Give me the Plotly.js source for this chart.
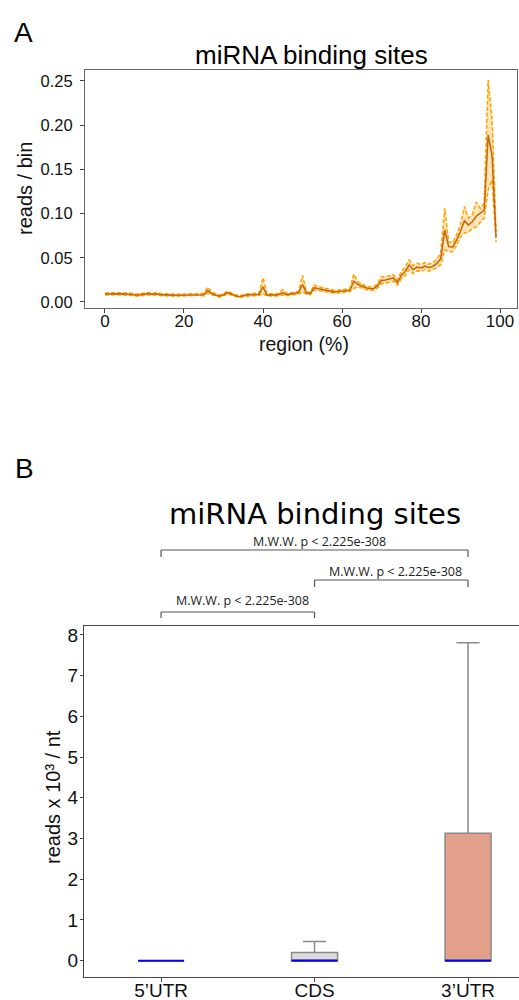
<!DOCTYPE html>
<html>
<head>
<meta charset="utf-8">
<script src="https://cdn.plot.ly/plotly-3.0.1.min.js"></script>
<style>
  html, body { margin: 0; padding: 0; background: #fff; }
  #chart { width: 519px; height: 1000px; }
</style>
</head>
<body>
<div id="chart"></div>
<script>
// ---- Panel A: metagene profile of miRNA binding site reads ----
const regionPct = Array.from({length: 100}, (_, i) => i);

const readsMean = [
  0.0090, 0.0092, 0.0098, 0.0093, 0.0092, 0.0091, 0.0088, 0.0085, 0.0077, 0.0083,
  0.0090, 0.0094, 0.0086, 0.0093, 0.0083, 0.0079, 0.0078, 0.0078, 0.0076, 0.0078,
  0.0077, 0.0078, 0.0077, 0.0080, 0.0088, 0.0082, 0.0128, 0.0096, 0.0080, 0.0066,
  0.0082, 0.0105, 0.0090, 0.0070, 0.0060, 0.0072, 0.0080, 0.0082, 0.0083, 0.0086,
  0.0172, 0.0078, 0.0082, 0.0078, 0.0084, 0.0103, 0.0084, 0.0090, 0.0094, 0.0105,
  0.0198, 0.0100, 0.0096, 0.0162, 0.0150, 0.0140, 0.0132, 0.0122, 0.0115, 0.0118,
  0.0122, 0.0125, 0.0133, 0.0235, 0.0200, 0.0180, 0.0160, 0.0152, 0.0150, 0.0185,
  0.0245, 0.0248, 0.0258, 0.0272, 0.0220, 0.0300, 0.0345, 0.0418, 0.0365, 0.0395,
  0.0385, 0.0405, 0.0388, 0.0405, 0.0435, 0.0490, 0.0815, 0.0626, 0.0620, 0.0700,
  0.0800, 0.0920, 0.0870, 0.0910, 0.0970, 0.1000, 0.1040, 0.1890, 0.1650, 0.0730
];

const readsUpper = [
  0.0102, 0.0104, 0.0110, 0.0105, 0.0104, 0.0103, 0.0100, 0.0097, 0.0089, 0.0095,
  0.0102, 0.0107, 0.0098, 0.0106, 0.0095, 0.0091, 0.0090, 0.0090, 0.0088, 0.0090,
  0.0089, 0.0090, 0.0089, 0.0093, 0.0101, 0.0096, 0.0168, 0.0110, 0.0093, 0.0078,
  0.0095, 0.0122, 0.0103, 0.0082, 0.0072, 0.0084, 0.0092, 0.0094, 0.0095, 0.0099,
  0.0275, 0.0091, 0.0095, 0.0091, 0.0097, 0.0140, 0.0097, 0.0103, 0.0108, 0.0120,
  0.0300, 0.0114, 0.0110, 0.0195, 0.0172, 0.0160, 0.0150, 0.0140, 0.0132, 0.0134,
  0.0138, 0.0141, 0.0150, 0.0315, 0.0230, 0.0205, 0.0180, 0.0170, 0.0168, 0.0210,
  0.0285, 0.0285, 0.0295, 0.0310, 0.0250, 0.0340, 0.0395, 0.0475, 0.0410, 0.0440,
  0.0425, 0.0445, 0.0428, 0.0445, 0.0480, 0.0560, 0.1060, 0.0680, 0.0670, 0.0760,
  0.0870, 0.1080, 0.0950, 0.0990, 0.1130, 0.1060, 0.1120, 0.2510, 0.2060, 0.0800
];

const readsLower = [
  0.0079, 0.0081, 0.0087, 0.0082, 0.0081, 0.0080, 0.0077, 0.0074, 0.0066, 0.0072,
  0.0079, 0.0082, 0.0075, 0.0081, 0.0072, 0.0068, 0.0067, 0.0067, 0.0065, 0.0067,
  0.0066, 0.0067, 0.0066, 0.0068, 0.0076, 0.0070, 0.0098, 0.0083, 0.0068, 0.0055,
  0.0070, 0.0090, 0.0078, 0.0059, 0.0049, 0.0061, 0.0069, 0.0071, 0.0072, 0.0074,
  0.0098, 0.0066, 0.0070, 0.0066, 0.0072, 0.0080, 0.0072, 0.0078, 0.0081, 0.0090,
  0.0117, 0.0087, 0.0083, 0.0135, 0.0130, 0.0122, 0.0115, 0.0106, 0.0100, 0.0103,
  0.0107, 0.0110, 0.0117, 0.0155, 0.0172, 0.0157, 0.0141, 0.0135, 0.0133, 0.0160,
  0.0208, 0.0212, 0.0222, 0.0236, 0.0192, 0.0262, 0.0300, 0.0365, 0.0322, 0.0352,
  0.0345, 0.0366, 0.0350, 0.0366, 0.0392, 0.0420, 0.0590, 0.0570, 0.0570, 0.0640,
  0.0735, 0.0780, 0.0790, 0.0830, 0.0850, 0.0900, 0.0950, 0.1270, 0.1380, 0.0680
];

// ---- Panel B: read density per transcript region ----
const regions     = ["5\u2019UTR", "CDS", "3\u2019UTR"];
const boxQ1       = [0, 0, 0];
const boxMedian   = [0, 0, 0];
const boxQ3       = [0, 0.20, 3.13];
const boxLower    = [0, 0, 0];
const boxUpper    = [0, 0.47, 7.81];
const boxFill     = ["#cfe3f5", "#dcdcdc", "#e2a08a"];

// pairwise tests shown as brackets above the boxes
const testPairs  = [[0, 2], [1, 2], [0, 1]];
const testLabels = ["M.W.W. p < 2.225e-308", "M.W.W. p < 2.225e-308", "M.W.W. p < 2.225e-308"];

const W = 519, H = 1000;
const py = px => 1 - px / H;   // pixel row -> paper y
const px2 = px => px / W;      // pixel column -> paper x

const BOX_W = 0.3;
const arial = "Liberation Sans, Arial, sans-serif";

const traces = [
  {x: regionPct, y: readsLower, type: "scatter", mode: "lines", xaxis: "x", yaxis: "y",
   line: {color: "#ffa500", width: 1.6, dash: "4px,2px"}, hoverinfo: "skip"},
  {x: regionPct, y: readsUpper, type: "scatter", mode: "lines", xaxis: "x", yaxis: "y",
   fill: "tonexty", fillcolor: "rgba(255,170,40,0.32)",
   line: {color: "#ffa500", width: 1.6, dash: "4px,2px"}, hoverinfo: "skip"},
  {x: regionPct, y: readsMean, type: "scatter", mode: "lines", xaxis: "x", yaxis: "y",
   line: {color: "#c8680c", width: 1.6}}
];

regions.forEach((r, i) => {
  traces.push({
    type: "box", xaxis: "x2", yaxis: "y2",
    x: [i], q1: [boxQ1[i]], median: [boxMedian[i]], q3: [boxQ3[i]],
    lowerfence: [boxLower[i]], upperfence: [boxUpper[i]],
    width: BOX_W, whiskerwidth: 0.5,
    fillcolor: boxFill[i], line: {color: "#8a8a8a", width: 1.5},
    name: r, hoverinfo: "skip"
  });
});
regions.forEach((r, i) => {
  traces.push({
    type: "scatter", mode: "lines", xaxis: "x2", yaxis: "y2",
    x: [i - BOX_W / 2, i + BOX_W / 2], y: [boxMedian[i], boxMedian[i]],
    line: {color: "#0000ff", width: 2}, hoverinfo: "skip"
  });
});

const shapes = [];
const annotations = [
  {text: "A", xref: "paper", yref: "paper", x: px2(12), y: py(32), xanchor: "left", yanchor: "middle",
   showarrow: false, font: {family: arial, size: 28, color: "#000"}},
  {text: "B", xref: "paper", yref: "paper", x: px2(13), y: py(468), xanchor: "left", yanchor: "middle",
   showarrow: false, font: {family: arial, size: 28, color: "#000"}},
  {text: "miRNA binding sites", xref: "paper", yref: "paper", x: px2(311), y: py(55),
   xanchor: "center", yanchor: "middle", showarrow: false,
   font: {family: arial, size: 26, color: "#000"}},
  {text: "miRNA binding sites", xref: "paper", yref: "paper", x: px2(315), y: py(514),
   xanchor: "center", yanchor: "middle", showarrow: false,
   font: {family: "DejaVu Sans, sans-serif", size: 29, color: "#000"}},
  // axis titles
  {text: "region (%)", xref: "paper", yref: "paper", x: px2(304), y: py(344),
   xanchor: "center", yanchor: "middle", showarrow: false,
   font: {family: arial, size: 19.5, color: "#111"}},
  {text: "reads / bin", xref: "paper", yref: "paper", x: px2(25), y: py(189), textangle: -90,
   xanchor: "center", yanchor: "middle", showarrow: false,
   font: {family: arial, size: 20, color: "#111"}},
  {text: "reads x 10\u00b3 / nt", xref: "paper", yref: "paper", x: px2(53), y: py(797), textangle: -90,
   xanchor: "center", yanchor: "middle", showarrow: false,
   font: {family: arial, size: 20, color: "#111"}}
];

// bracket rows: horizontal line y, tick end y, label centre y (pixels)
const bracketRows = [[550, 557, 541], [580, 587, 571], [612, 618, 600]];
testPairs.forEach((pair, k) => {
  const [a, b] = pair;
  const [yl, yt, ytxt] = bracketRows[k];
  const ln = {color: "#555", width: 1.2};
  shapes.push({type: "line", xref: "x2", yref: "paper", x0: a, x1: b, y0: py(yl), y1: py(yl), line: ln});
  shapes.push({type: "line", xref: "x2", yref: "paper", x0: a, x1: a, y0: py(yl), y1: py(yt), line: ln});
  shapes.push({type: "line", xref: "x2", yref: "paper", x0: b, x1: b, y0: py(yl), y1: py(yt), line: ln});
  annotations.push({text: testLabels[k], xref: "x2", yref: "paper", x: (a + b) / 2 + 0.03, y: py(ytxt),
    xanchor: "center", yanchor: "middle", showarrow: false,
    font: {family: "Open Sans, sans-serif", size: 12.5, color: "#222"}});
});

const axCommon = {
  showgrid: false, zeroline: false, showline: true, linecolor: "#444", linewidth: 1,
  ticks: "outside", ticklen: 4, tickcolor: "#444", tickwidth: 1,
  tickfont: {family: arial, size: 16, color: "#111"}
};

const layout = {
  width: W, height: H,
  margin: {l: 0, r: 0, t: 0, b: 0},
  paper_bgcolor: "#fff", plot_bgcolor: "#fff",
  showlegend: false,
  xaxis: Object.assign({}, axCommon, {
    domain: [px2(85), px2(517)], anchor: "y", range: [-5.06, 104.3],
    tickmode: "array", tickvals: [0, 20, 40, 60, 80, 100], mirror: true, linecolor: "#666",
    tickfont: {family: arial, size: 17, color: "#111"}, ticklabelstandoff: -6
  }),
  yaxis: Object.assign({}, axCommon, {
    domain: [py(308), py(70)], anchor: "x", range: [-0.0068, 0.2624],
    tickmode: "array", tickvals: [0, 0.05, 0.10, 0.15, 0.20, 0.25], tickformat: ".2f",
    mirror: true, linecolor: "#666",
    tickfont: {family: arial, size: 16.5, color: "#111"}, ticklabelstandoff: 4
  }),
  xaxis2: Object.assign({}, axCommon, {
    domain: [px2(84), 1], anchor: "y2", range: [-0.502, 2.332],
    tickmode: "array", tickvals: [0, 1, 2], ticktext: regions, mirror: true,
    tickfont: {family: arial, size: 19, color: "#111"}, ticklabelstandoff: -8
  }),
  yaxis2: Object.assign({}, axCommon, {
    domain: [py(977), py(626)], anchor: "x2", range: [-0.40, 8.22],
    tickmode: "array", tickvals: [0, 1, 2, 3, 4, 5, 6, 7, 8], mirror: false,
    ticklen: 3, tickfont: {family: arial, size: 19, color: "#111"}, ticklabelstandoff: -2
  }),
  shapes: shapes,
  annotations: annotations
};

Plotly.newPlot("chart", traces, layout, {staticPlot: true, displayModeBar: false});
</script>
</body>
</html>
